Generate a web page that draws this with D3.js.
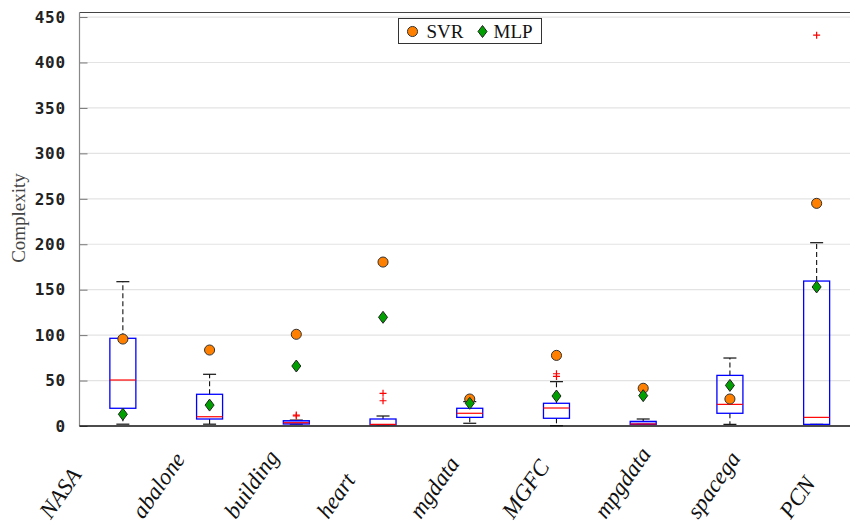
<!DOCTYPE html>
<html>
<head>
<meta charset="utf-8">
<script src="https://cdn.jsdelivr.net/npm/d3@7"></script>
<style>
  body { margin: 0; background: #fff; }
  svg { display: block; }
</style>
</head>
<body>
<div id="chart"></div>
<script>
// data
const categories = ["NASA", "abalone", "building", "heart", "mgdata", "MGFC", "mpgdata", "spacega", "PCN"];
const lowerWhisker = [2, 2, 2, 1.5, 3, 0.3, 1.8, 1.8, 1.8];
const q1 = [19.5, 7.7, 2.2, 1.5, 9.5, 8.5, 1.8, 14, 1.8];
const medians = [50.6, 10.2, 3.6, 1.8, 14, 19.8, 2.2, 23.8, 9.5];
const q3 = [96.5, 34.9, 5.8, 7.7, 19.5, 25, 5.1, 55.7, 159.5];
const upperWhisker = [158.8, 56.9, 6.5, 11, 26.8, 48.8, 7.7, 74.8, 201.7];
const outliers = [[], [], [12, 11], [36, 27.8], [], [57.5, 54.6], [], [], [430]];
const svrValues = [95.7, 83.6, 100.9, 180.4, 29.7, 77.7, 41.5, 29.7, 245];
const mlpValues = [12.9, 23, 66, 119.6, 25, 33, 33.4, 44.7, 153];
const yTicks = [0, 50, 100, 150, 200, 250, 300, 350, 400, 450];

const W = 850, H = 523;
const plotLeft = 79.5, plotBottom = 426, plotTop = 12.5, plotRight = 860;

const svg = d3.select("#chart").append("svg")
    .attr("width", W)
    .attr("height", H);

const x = d3.scaleLinear().domain([0.5, categories.length + 0.5]).range([plotLeft, plotRight]);
const y = d3.scaleLinear().domain([0, 455]).range([plotBottom, plotTop]);
const cx = i => x(i + 1);
// the rotated tick labels are spread a little wider than the boxes
const labelX = d3.scaleLinear().domain([1, categories.length]).range([x(1) - 72, x(categories.length) - 26]);
const boxW = 26, capW = 13;

// gridlines
svg.append("g")
    .selectAll("line")
    .data(yTicks.filter(d => d > 0))
    .join("line")
    .attr("x1", plotLeft).attr("x2", W)
    .attr("y1", d => y(d)).attr("y2", d => y(d))
    .attr("stroke", "#e3e3e3")
    .attr("stroke-width", 1.2);

// y axis ticks (inward)
const yAxis = svg.append("g")
    .attr("transform", `translate(${plotLeft},0)`)
    .call(d3.axisRight(y).tickValues(yTicks).tickSize(8).tickFormat(""));
yAxis.select(".domain").remove();
yAxis.selectAll(".tick line").attr("stroke", "#777");

svg.append("g")
    .selectAll("text")
    .data(yTicks)
    .join("text")
    .attr("x", 66)
    .attr("y", d => y(d))
    .attr("dy", "0.36em")
    .attr("text-anchor", "end")
    .style("font-family", "'DejaVu Sans Mono', monospace")
    .style("font-weight", "bold")
    .style("font-size", "16px")
    .style("letter-spacing", "0.8px")
    .attr("fill", "#222")
    .text(d => d);

// frame lines
svg.append("line").attr("x1", plotLeft).attr("x2", W).attr("y1", plotTop).attr("y2", plotTop)
    .attr("stroke", "#444").attr("stroke-width", 1.2);
svg.append("line").attr("x1", plotLeft).attr("x2", plotLeft).attr("y1", plotTop).attr("y2", plotBottom)
    .attr("stroke", "#888").attr("stroke-width", 1.2);

// y label
svg.append("text")
    .attr("transform", `translate(25,218) rotate(-90)`)
    .attr("text-anchor", "middle")
    .style("font-family", "'Liberation Serif', 'Times New Roman', serif")
    .style("font-size", "19px")
    .attr("fill", "#444")
    .text("Complexity");

// boxes
const boxes = svg.append("g")
    .selectAll("g")
    .data(categories.map((c, i) => i))
    .join("g");

boxes.append("line")
    .attr("x1", i => cx(i)).attr("x2", i => cx(i))
    .attr("y1", i => y(q3[i])).attr("y2", i => y(upperWhisker[i]))
    .attr("stroke", "#111").attr("stroke-width", 1.1).attr("stroke-dasharray", "5,3");
boxes.append("line")
    .attr("x1", i => cx(i)).attr("x2", i => cx(i))
    .attr("y1", i => y(q1[i])).attr("y2", i => y(lowerWhisker[i]))
    .attr("stroke", "#111").attr("stroke-width", 1.1).attr("stroke-dasharray", "5,3");
boxes.append("line")
    .attr("x1", i => cx(i) - capW / 2).attr("x2", i => cx(i) + capW / 2)
    .attr("y1", i => y(upperWhisker[i])).attr("y2", i => y(upperWhisker[i]))
    .attr("stroke", "#111").attr("stroke-width", 1.2);
boxes.append("line")
    .attr("x1", i => cx(i) - capW / 2).attr("x2", i => cx(i) + capW / 2)
    .attr("y1", i => y(lowerWhisker[i])).attr("y2", i => y(lowerWhisker[i]))
    .attr("stroke", "#111").attr("stroke-width", 1.2);
boxes.append("rect")
    .attr("x", i => cx(i) - boxW / 2)
    .attr("width", boxW)
    .attr("y", i => y(q3[i]))
    .attr("height", i => Math.max(1, y(q1[i]) - y(q3[i])))
    .attr("fill", i => (y(q1[i]) - y(q3[i]) < 5 ? "rgba(60,60,255,0.45)" : "none"))
    .attr("stroke", "#0000ff")
    .attr("stroke-width", 1.3);
boxes.append("line")
    .attr("x1", i => cx(i) - boxW / 2).attr("x2", i => cx(i) + boxW / 2)
    .attr("y1", i => y(medians[i])).attr("y2", i => y(medians[i]))
    .attr("stroke", "#ff0000").attr("stroke-width", 1.2);

// outliers
const outData = [];
outliers.forEach((arr, i) => arr.forEach(v => outData.push({ i, v })));
svg.append("g").selectAll("path").data(outData).join("path")
    .attr("transform", d => `translate(${cx(d.i)},${y(d.v)})`)
    .attr("d", "M-3.5,0H3.5M0,-3.5V3.5")
    .attr("stroke", "#ff0000")
    .attr("stroke-width", 1.2);

// bottom axis line
svg.append("line").attr("x1", plotLeft).attr("x2", W).attr("y1", plotBottom).attr("y2", plotBottom)
    .attr("stroke", "#111").attr("stroke-width", 1.3);

// SVR and MLP markers
const circleSym = d3.symbol().type(d3.symbolCircle).size(80);
const diamondPath = "M0,-6L4.5,0L0,6L-4.5,0Z";
svg.append("g").selectAll("path").data(svrValues).join("path")
    .attr("transform", (d, i) => `translate(${cx(i)},${y(d)})`)
    .attr("d", circleSym())
    .attr("fill", "#ff8000")
    .attr("stroke", "#333")
    .attr("stroke-width", 1);
svg.append("g").selectAll("path").data(mlpValues).join("path")
    .attr("transform", (d, i) => `translate(${cx(i)},${y(d)})`)
    .attr("d", diamondPath)
    .attr("fill", "#00a000")
    .attr("stroke", "#222")
    .attr("stroke-width", 1);

// x labels
svg.append("g").selectAll("text").data(categories).join("text")
    .attr("transform", (d, i) => `translate(${labelX(i + 1)},520) rotate(-55)`)
    .attr("text-anchor", "start")
    .style("font-family", "'Liberation Serif', 'Times New Roman', serif")
    .style("font-style", "italic")
    .style("font-size", "23px")
    .attr("fill", "#111")
    .text(d => d);

// legend
const legend = svg.append("g").attr("transform", "translate(398.5,18.5)");
legend.append("rect").attr("width", 143).attr("height", 25)
    .attr("fill", "#fff").attr("stroke", "#333").attr("stroke-width", 1);
legend.append("path").attr("transform", "translate(14,13)").attr("d", circleSym())
    .attr("fill", "#ff8000").attr("stroke", "#333");
legend.append("text").attr("x", 28).attr("y", 19)
    .style("font-family", "'Liberation Serif', 'Times New Roman', serif")
    .style("font-size", "19px").attr("fill", "#111").text("SVR");
legend.append("path").attr("transform", "translate(84,13)").attr("d", diamondPath)
    .attr("fill", "#00a000").attr("stroke", "#222");
legend.append("text").attr("x", 95).attr("y", 19)
    .style("font-family", "'Liberation Serif', 'Times New Roman', serif")
    .style("font-size", "19px").attr("fill", "#111").text("MLP");
</script>
</body>
</html>
